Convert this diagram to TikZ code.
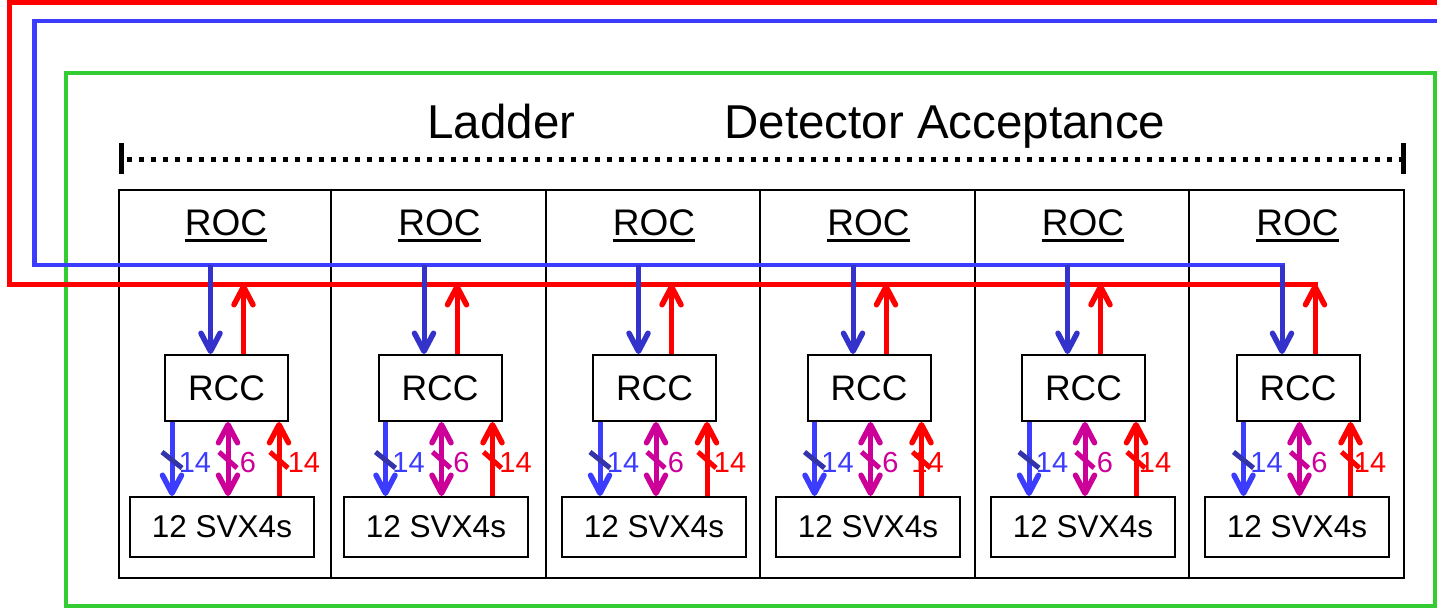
\documentclass[tikz,border=0pt]{standalone}
\usepackage{fontspec}
\setmainfont{Liberation Sans}
\usetikzlibrary{arrows.meta,calc}
\definecolor{cred}{RGB}{255,0,0}
\definecolor{cblue}{RGB}{60,60,255}
\definecolor{cbluea}{RGB}{51,51,204}
\definecolor{cbslash}{RGB}{51,51,170}
\definecolor{cmag}{RGB}{204,0,153}
\definecolor{cgreen}{RGB}{51,204,51}
\newcommand{\myTitleF}{\fontsize{47.5}{50}\selectfont}
\newcommand{\myRocF}{\fontsize{37}{40}\selectfont}
\newcommand{\myRccF}{\fontsize{35.5}{38}\selectfont}
\newcommand{\mySvxF}{\fontsize{31.5}{34}\selectfont}
\newcommand{\myLabF}{\fontsize{29}{31}\selectfont}
\tikzset{
  barbtip/.tip={Straight Barb[length=18pt,width=19pt,line width=5.5pt,round]},
  tipend/.style={-barbtip},
  dtipend/.style={barbtip-barbtip},
  blk/.style={draw=black,line width=2pt,inner sep=0pt,fill=white},
  wire/.style={line width=5pt},
  lab/.style={font=\myLabF,anchor=base,inner sep=0pt},
}
\begin{document}
\begin{tikzpicture}[x=1pt,y=-1pt]
\useasboundingbox (0,0) rectangle (1437,611);
% detector acceptance frame
\draw[cgreen,line width=4.5pt] (66,73) rectangle (1435,606);
% title
\node[anchor=base,font=\myTitleF,inner sep=0pt] (ladder) at (501.5,138) {Ladder};
\node[anchor=base,font=\myTitleF,inner sep=0pt] (accept) at (945,138) {Detector Acceptance};
% dotted extent line
\coordinate (dl) at (121,159);
\coordinate (dr) at (1403,159);
\draw[line width=5pt,dash pattern=on 5pt off 7pt] ([xshift=6pt]dl) -- (dr);
\draw[line width=5pt] ([yshift=16pt]dl) -- ([yshift=-15pt]dl);
\draw[line width=5pt] ([yshift=16pt]dr) -- ([yshift=-15pt]dr);
% ladder columns
\foreach \l/\r/\i in {119/331/1,331/546/2,546/760/3,760/975/4,975/1189/5,1189/1404/6}{
  \node[draw=black,line width=2pt,inner sep=0pt,minimum width={\r-\l},minimum height=388pt] (col\i) at ({(\l+\r)/2},384) {};
}
\foreach \c/\s/\rl/\i in {225/222/79/1,438.5/436/77/2,653/654/77/3,867.5/868/60/4,1082/1083/73/5,1296.5/1297/73.5/6}{
  \node[anchor=base,font=\myRocF,inner sep=0pt] (roc\i) at (\c+1,235) {ROC};
  \draw[line width=3pt] ([yshift=-5.5pt]roc\i.base west) -- ([yshift=-5.5pt]roc\i.base east);
  \node[blk,minimum width=123pt,minimum height=66pt,font=\myRccF] (rcc\i) at (\c+1.5,388) {RCC};
  \node[blk,minimum width=184pt,minimum height=60pt,font=\mySvxF] (svx\i) at (\s,527) {12 SVX4s};
  % labels
  \node[lab,text=cblue] (lb\i) at (\c-30,472) {14};
  \node[lab,text=cmag] (lm\i) at (\c+23,472) {6};
  \node[lab,text=cred] (lr\i) at (\c+\rl,472) {14};
  % lower arrows
  \coordinate (xb\i) at (\c-53,460);
  \coordinate (xm\i) at (\c+3,460);
  \coordinate (xr\i) at (\c+54,460);
  \draw[cmag,line width=5pt] ($(xm\i)+(-9,-8)$) -- ($(xm\i)+(9,8)$);
  \draw[cred,line width=5pt] ($(xr\i)+(-9,-8)$) -- ($(xr\i)+(9,8)$);
  \draw[cblue,line width=5pt,tipend] (rcc\i.south -| xb\i) -- (svx\i.north -| xb\i);
  \draw[cmag,line width=5pt,dtipend] (rcc\i.south -| xm\i) -- (svx\i.north -| xm\i);
  \draw[cred,line width=5pt,tipend] (svx\i.north -| xr\i) -- (rcc\i.south -| xr\i);
  \draw[cbslash,line width=5pt] ($(xb\i)+(-10,-8)$) -- ($(xb\i)+(10,8)$);
  % bus taps
  \coordinate (bt\i) at (\c-14.5,265);
  \coordinate (rt\i) at (\c+18.5,284);
}
% buses
\coordinate (bE) at (1440,21);
\coordinate (bNW) at (34.5,21);
\coordinate (bSW) at (34.5,265);
\coordinate (rE) at (1440,2.5);
\coordinate (rNW) at (9,2.5);
\coordinate (rSW) at (9,284);
\draw[cblue,line width=4.5pt] (bE) -- (bNW) -- (bSW) -- ([xshift=2.5pt]bt6);
\draw[cred,line width=5pt] (rE) -- (rNW) -- (rSW) -- ([xshift=2.5pt]rt6);
\foreach \i in {1,...,6}{
  \draw[cbluea,wire,tipend] (bt\i) -- (rcc\i.north -| bt\i);
  \draw[cred,wire,tipend] (rcc\i.north -| rt\i) -- (rt\i);
}
\end{tikzpicture}
\end{document}
